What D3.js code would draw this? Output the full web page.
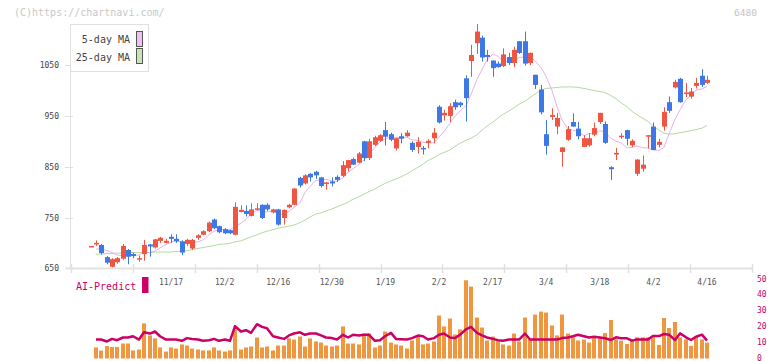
<!DOCTYPE html>
<html><head><meta charset="utf-8">
<script src="https://cdn.jsdelivr.net/npm/d3@7"></script>
<style>body{margin:0;background:#fff}svg{display:block}text{font-family:"DejaVu Sans Mono",monospace}</style>
</head><body><svg id="c" width="772" height="361"></svg>
<script>
const dates = ["10/24","10/27","10/28","10/29","10/30","10/31","11/4","11/5","11/6","11/7",
"11/10","11/11","11/12","11/13","11/14","11/17","11/18","11/19","11/20","11/21",
"11/25","11/26","11/27","11/28","12/1","12/2","12/3","12/4","12/5","12/8",
"12/9","12/10","12/11","12/12","12/15","12/16","12/17","12/18","12/19","12/22",
"12/23","12/24","12/25","12/26","12/29","12/30","1/5","1/6","1/7","1/8",
"1/9","1/13","1/14","1/15","1/16","1/19","1/20","1/21","1/22","1/23",
"1/26","1/27","1/28","1/29","1/30","2/2","2/3","2/4","2/5","2/6",
"2/9","2/10","2/12","2/13","2/16","2/17","2/18","2/19","2/20","2/24",
"2/25","2/26","2/27","3/2","3/3","3/4","3/5","3/6","3/9","3/10",
"3/11","3/12","3/13","3/16","3/17","3/18","3/19","3/23","3/24","3/25",
"3/26","3/27","3/30","3/31","4/1","4/2","4/3","4/6","4/7","4/8",
"4/9","4/10","4/13","4/14","4/15","4/16"];
const open = [694,699,696,672,653,662,669,686,678,668,678,697,691,704,700,712,708,703,698,689,
710,716,723,746,733,727,725,716,761,763,753,767,775,775,760,766,749,770,775,828,
817,836,840,829,818,821,830,832,847,865,858,900,867,893,901,922,914,886,910,910,
897,889,887,897,906,968,951,950,977,976,1024,1058,1093,1104,1070,1059,1053,1048,1066,1054,
1097,1097,1054,1031,1002,914,948,929,879,903,938,925,889,892,913,938,934,849,875,909,
922,892,836,846,909,929,893,929,977,1006,1023,994,988,1009,1029,1015];
const high = [694,705,698,674,670,672,698,688,681,675,706,698,708,712,708,717,717,705,708,708,
717,725,742,748,734,729,726,780,774,774,778,778,776,778,767,767,766,777,808,830,
835,837,842,830,820,829,833,861,863,868,879,901,905,911,914,938,917,907,916,922,
900,908,891,904,926,971,962,975,982,978,1030,1090,1131,1108,1080,1059,1057,1083,1074,1086,
1097,1116,1075,1031,1011,942,965,956,888,930,955,938,912,916,937,956,939,851,887,916,
923,904,865,872,912,937,905,967,988,1021,1025,1015,1005,1025,1042,1029];
const low = [694,694,677,658,652,659,667,658,670,663,665,673,689,700,699,700,700,676,694,686,
706,715,721,727,719,717,717,715,760,752,752,764,747,763,758,734,736,768,774,809,
815,821,826,809,805,811,820,830,841,853,857,861,863,891,899,892,900,882,896,909,
879,876,874,886,896,935,941,938,962,967,939,1027,1072,1057,1057,1027,1045,1046,1050,1046,
1072,1049,1050,1003,953,874,942,914,850,901,929,904,889,889,910,934,895,824,863,905,
892,889,832,840,886,883,888,921,956,1004,976,987,984,1004,1007,1013];
const close = [694,700,680,661,668,670,694,673,674,670,696,693,707,710,704,708,703,681,706,706,
715,723,740,729,721,719,719,771,765,757,766,768,749,766,766,736,765,775,807,813,
833,829,833,812,819,817,824,853,863,854,876,867,900,908,912,909,903,906,905,917,
883,899,884,901,917,937,956,969,967,971,985,1070,1116,1065,1066,1044,1046,1071,1054,1080,
1074,1053,1074,1011,957,891,952,946,888,924,929,910,906,906,926,956,897,845,877,911,
905,901,864,854,912,883,899,958,960,1017,977,996,998,1015,1011,1021];
const ma5 = [null,688,688,685,681,676,675,673,676,676,681,681,684,690,697,701,705,701,700,701,
702,706,716,723,726,726,726,732,739,746,756,765,761,761,763,757,756,762,770,779,
799,811,823,824,825,822,821,828,839,846,855,863,874,888,899,905,908,908,907,908,
903,902,898,897,897,908,919,936,949,960,970,992,1022,1041,1060,1072,1067,1058,1056,1059,
1065,1066,1067,1058,1045,1028,1000,968,942,924,922,919,911,915,915,921,918,906,900,897,
887,888,891,887,887,883,882,888,915,943,962,982,990,1001,1003,1008];
const ma25 = [null,678,678,679,679,680,680,681,681,681,681,681,682,682,682,682,683,683,685,687,
689,691,693,695,697,698,699,702,704,708,712,716,720,723,726,729,731,733,735,740,
745,751,757,759,763,767,771,776,780,786,791,796,801,806,812,817,822,826,830,836,
842,849,855,862,868,874,878,883,890,896,902,906,913,922,930,938,946,953,960,966,
973,979,986,993,1001,1004,1005,1006,1007,1007,1007,1006,1004,1002,1000,998,996,990,984,976,
968,959,952,945,939,930,922,916,914,915,917,919,921,923,926,931];
const volume = [0,7.0,5.0,7.9,7.3,7.3,9.5,9.5,5.1,5.7,22.2,14.6,12.7,7.0,4.4,7.0,6.3,8.9,8.2,6.3,
5.7,5.1,5.1,7.0,5.1,4.4,5.1,18.4,5.7,7.0,7.6,13.3,7.0,7.6,5.1,8.2,8.2,12.7,12.0,13.9,
7.6,12.7,10.8,10.1,8.2,7.6,8.2,20.3,9.5,9.5,8.9,15.8,15.8,7.0,8.2,17.1,10.1,8.9,8.2,6.3,
11.4,13.9,8.9,9.5,10.8,27.2,20.3,25.3,15.2,18.4,49.5,45.5,25.9,19.6,11.4,13.9,10.8,8.9,8.2,15.8,
10.8,25.9,12.0,27.8,29.7,29.1,20.9,14.6,27.8,15.8,13.3,11.4,12.0,10.1,13.9,13.4,16.1,24.4,12.1,11.3,
9.2,11.3,13.4,13.4,13.4,13.4,8.6,25.6,19.3,23.1,13.4,12.1,8.0,14.2,12.1,10.0];
const aiPredict = [null,12.0,12.0,10.8,12.4,11.6,13.3,13.3,14.1,12.0,16.6,15.8,17.1,14.1,12.0,12.0,12.0,11.2,12.9,12.4,
12.0,11.2,11.6,12.4,11.2,12.0,11.2,20.5,17.1,17.9,16.2,21.7,20.0,19.2,14.1,13.3,12.4,14.6,15.8,16.6,
15.0,15.8,15.8,14.6,13.3,12.9,12.0,15.0,13.3,15.0,14.6,15.0,15.0,11.2,11.6,14.1,16.2,12.4,12.2,12.0,
12.9,14.5,14.1,12.0,12.9,15.0,15.8,13.3,12.9,15.0,18.5,20.0,16.2,14.6,13.3,12.4,11.6,11.2,12.0,12.0,
12.0,15.8,12.0,12.0,12.0,12.0,12.0,12.0,12.9,13.3,14.1,15.0,14.1,13.3,13.7,13.3,12.8,11.7,13.4,12.8,
12.8,11.3,12.1,12.1,12.1,14.2,14.2,15.5,15.1,11.7,15.9,13.4,11.7,13.8,15.1,11.3];
const tickLabels = ["11/17","12/2","12/16","12/30","1/19","2/2","2/17","3/4","3/18","4/2","4/16"];
const priceTicks = [650,750,850,950,1050];
const volTicks = [0,10,20,30,40,50];
const gridCount = 11;

const svg = d3.select("#c");
const x = d3.scalePoint().domain(dates).range([90.6, 707]);
const y = d3.scaleLinear().domain([650,1050]).range([268.3, 65.1]);
const yv = d3.scaleLinear().domain([0,50]).range([358.5, 279.5]);
const xg = d3.scaleLinear().domain([0, gridCount]).range([71, 752]);
const cx = i => Math.round(x(dates[i]));

svg.append("rect").attr("width",772).attr("height",361).attr("fill","#fff");
svg.append("text").attr("x",14).attr("y",15.5).attr("font-size",10).attr("fill","#c8c8c8").text("(C)https://chartnavi.com/");
svg.append("text").attr("x",734).attr("y",16).attr("font-size",9.5).attr("fill","#c4c4c4").text("6480");

// axes frame
svg.append("line").attr("x1",70.5).attr("x2",70.5).attr("y1",24).attr("y2",268).attr("stroke","#e2e2e2");
svg.selectAll(".yt").data(priceTicks).join("line").attr("x1",65).attr("x2",73).attr("y1",d=>Math.round(y(d))+0.5).attr("y2",d=>Math.round(y(d))+0.5).attr("stroke","#e0e0e0");
svg.selectAll(".yl").data(priceTicks).join("text").attr("x",59).attr("y",d=>y(d)+3).attr("text-anchor","end").attr("font-size",8).attr("fill","#444").text(d=>d);
svg.append("line").attr("x1",66).attr("x2",752).attr("y1",268.5).attr("y2",268.5).attr("stroke","#e2e2e2").attr("stroke-width",2);
svg.selectAll(".xg").data(d3.range(gridCount+1)).join("line").attr("x1",d=>Math.round(xg(d))+0.5).attr("x2",d=>Math.round(xg(d))+0.5).attr("y1",264).attr("y2",273).attr("stroke","#e0e0e0").attr("stroke-width",1.5);
svg.selectAll(".xl").data(tickLabels).join("text").attr("x",d=>x(d)).attr("y",285).attr("text-anchor","middle").attr("font-size",8).attr("fill","#555").text(d=>d);

// MA lines
const idx = d3.range(dates.length);
const lineOf = arr => d3.line().defined(i=>arr[i]!=null).x(i=>cx(i)).y(i=>y(arr[i]));
svg.append("path").attr("d",lineOf(ma25)(idx)).attr("fill","none").attr("stroke","#b4dba2").attr("stroke-width",1);
svg.append("path").attr("d",lineOf(ma5)(idx)).attr("fill","none").attr("stroke","#e8b2ea").attr("stroke-width",1);

// candles
const col = i => close[i] >= open[i] ? "#f05542" : "#3d78e6";
const g = svg.append("g");
g.selectAll(".w").data(idx).join("rect")
  .attr("x",i=>cx(i)).attr("width",1)
  .attr("y",i=>y(high[i])).attr("height",i=>Math.max(1,y(low[i])-y(high[i])))
  .attr("fill",col);
g.selectAll(".b").data(idx).join("rect")
  .attr("x",i=>cx(i)-2).attr("width",5)
  .attr("y",i=>y(Math.max(open[i],close[i]))).attr("height",i=>Math.max(1.5,Math.abs(y(open[i])-y(close[i]))))
  .attr("fill",col);

// legend
svg.append("rect").attr("x",70.5).attr("y",24.5).attr("width",78).attr("height",47).attr("fill","#fff").attr("stroke","#e0e0e0");
svg.append("text").attr("x",130).attr("y",43).attr("text-anchor","end").attr("font-size",10).attr("fill","#444").text("5-day MA");
svg.append("text").attr("x",130).attr("y",60.5).attr("text-anchor","end").attr("font-size",10).attr("fill","#444").text("25-day MA");
svg.append("rect").attr("x",136.5).attr("y",31.5).attr("width",6).attr("height",15).attr("fill","#f0c0f0").attr("stroke","#555");
svg.append("rect").attr("x",136.5).attr("y",48.5).attr("width",6).attr("height",15).attr("fill","#c6e4b6").attr("stroke","#555");

// bottom panel
svg.append("text").attr("x",76).attr("y",289.5).attr("font-size",10).attr("fill","#cc0066").text("AI-Predict");
svg.append("rect").attr("x",142).attr("y",277).attr("width",6.5).attr("height",16).attr("fill","#cc0066");
svg.selectAll(".vl").data(volTicks).join("text").attr("x",757).attr("y",d=>yv(d)+2).attr("font-size",8).attr("fill","#cc0066").text(d=>d);
svg.selectAll(".vb").data(idx.filter(i=>volume[i]>0)).join("rect")
  .attr("x",i=>cx(i)-2).attr("width",4)
  .attr("y",i=>yv(volume[i])).attr("height",i=>yv(0)-yv(volume[i]))
  .attr("fill","#f0963e");
svg.append("path").attr("d",d3.line().defined(i=>aiPredict[i]!=null).x(i=>cx(i)).y(i=>yv(aiPredict[i]))(idx))
  .attr("fill","none").attr("stroke","#cc0066").attr("stroke-width",2.5).attr("stroke-linejoin","round");
</script></body></html>
